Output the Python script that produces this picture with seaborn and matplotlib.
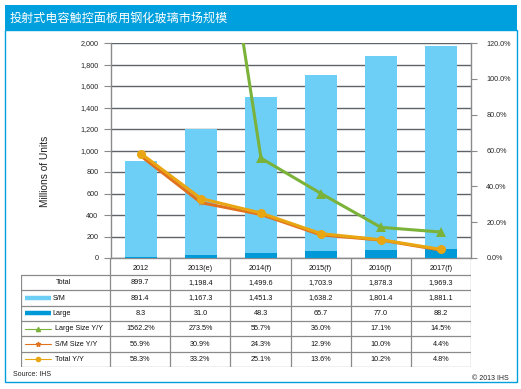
import numpy as np
import matplotlib
matplotlib.use("Agg")
import matplotlib.pyplot as plt
from matplotlib.patches import Rectangle
from matplotlib.lines import Line2D
import seaborn as sns

# data
years = ["2012", "2013(e)", "2014(f)", "2015(f)", "2016(f)", "2017(f)"]
total = [899.7, 1198.4, 1499.6, 1703.9, 1878.3, 1969.3]
sm = [891.4, 1167.3, 1451.3, 1638.2, 1801.4, 1881.1]
large = [8.3, 31.0, 48.3, 65.7, 77.0, 88.2]
large_yy = [1562.2, 273.5, 55.7, 36.0, 17.1, 14.5]
sm_yy = [56.9, 30.9, 24.3, 12.9, 10.0, 4.4]
total_yy = [58.3, 33.2, 25.1, 13.6, 10.2, 4.8]

left_ticks = list(range(0, 2001, 200))
right_ticks = list(range(0, 121, 20))

LIGHT = "#6DCFF6"
DARK = "#0099D8"
GREEN = "#7AB23A"
ORANGE = "#E2711D"
GOLD = "#E9A613"
BAR_BLUE = "#009FDD"
GRID = "#5F6368"
TGRID = "#8A8A8A"

sns.set_theme(style="white")
plt.rcParams["font.family"] = ["Liberation Sans", "DejaVu Sans"]

W, H = 521, 389
fig = plt.figure(figsize=(W / 100, H / 100), dpi=100)


def fbox(x0, y0, x1, y1):
    return [x0 / W, 1 - y1 / H, (x1 - x0) / W, (y1 - y0) / H]


# frame and title bar
fig.patches.append(Rectangle((5 / W, 1 - 382 / H), 512 / W, 352 / H, transform=fig.transFigure,
                             fill=False, edgecolor=BAR_BLUE, lw=1.0))
fig.patches.append(Rectangle((5 / W, 1 - 30 / H), 512 / W, 25 / H, transform=fig.transFigure,
                             facecolor=BAR_BLUE, edgecolor="none"))
fig.text(10 / W, 1 - 18 / H, "投射式电容触控面板用钢化玻璃市场规模", color="white", fontsize=8.7,
         va="center", ha="left", family=["Noto Sans CJK SC", "DejaVu Sans"])

# main chart
ax = fig.add_axes(fbox(111, 43, 471, 258))
sns.barplot(x=years, y=total, color=LIGHT, width=0.52, saturation=1, linewidth=0,
            edgecolor="none", ax=ax, zorder=2)
sns.barplot(x=years, y=large, color=DARK, width=0.52, saturation=1, linewidth=0,
            edgecolor="none", ax=ax, zorder=3)
ax.set_ylim(0, 2000)
ax.set_xlim(-0.5, 5.5)
ax.set_yticks(left_ticks)
ax.set_yticklabels([f"{v:,}" for v in left_ticks], fontsize=5.2)
ax.yaxis.grid(True, color=GRID, lw=1.0, zorder=0)
ax.set_axisbelow(True)
ax.set_xticks([])
ax.set_xlabel("")
ax.set_ylabel("")
ax.tick_params(axis="y", length=5, width=0.8, color=TGRID, direction="out", pad=4, left=True)
for s in ["left", "bottom", "right"]:
    ax.spines[s].set_color(TGRID)
    ax.spines[s].set_linewidth(1.0)
ax.spines["top"].set_visible(False)

ax2 = ax.twinx()
sns.pointplot(x=years, y=large_yy, color=GREEN, marker="^", markersize=7, markeredgewidth=0,
              linewidth=2.2, ax=ax2)
sns.pointplot(x=years, y=sm_yy, color=ORANGE, marker="*", markersize=5.5, markeredgewidth=0,
              linewidth=2.2, ax=ax2)
sns.pointplot(x=years, y=total_yy, color=GOLD, marker="o", markersize=6.5, markeredgewidth=0,
              linewidth=2.2, ax=ax2)
ax2.set_ylim(0, 120)
ax2.set_xlim(-0.5, 5.5)
ax2.set_yticks(right_ticks)
ax2.set_yticklabels([f"{v:.1f}%" for v in right_ticks], fontsize=5.2)
ax2.tick_params(axis="y", length=4, width=0.8, color=TGRID, direction="out", pad=7, right=True)
ax2.set_xticks([])
ax2.set_ylabel("")
ax2.set_xlabel("")
for s in ax2.spines.values():
    s.set_visible(False)

fig.text(45 / W, 1 - 171 / H, "Millions of Units", rotation=90, fontsize=7.3,
         ha="center", va="center", color="#222222")

# data table
n = len(years)
lab_w = 89 / 60  # label column width in category units
hdr = 17 / 15.33
xl = -0.5 - lab_w
tax = fig.add_axes(fbox(21, 258, 471, 367))
tax.set_xlim(xl, n - 0.5)
tax.set_ylim(6, -hdr)
tax.axis("off")

for r in range(7):
    tax.plot([xl, n - 0.5], [r, r], color=TGRID, lw=0.9, solid_capstyle="butt")
tax.plot([xl, xl], [0, 6], color=TGRID, lw=0.9)
for c in range(n + 1):
    tax.plot([c - 0.5, c - 0.5], [-hdr, 6], color=TGRID, lw=0.9)

for i, y in enumerate(years):
    tax.text(i, -hdr / 2 + 0.1, y, ha="center", va="center", fontsize=5.2, color="#111111")

rows = [
    ("Total", [f"{v:,.1f}" for v in total]),
    ("S/M", [f"{v:,.1f}" for v in sm]),
    ("Large", [f"{v:,.1f}" for v in large]),
    ("Large Size Y/Y", [f"{v:.1f}%" for v in large_yy]),
    ("S/M Size Y/Y", [f"{v:.1f}%" for v in sm_yy]),
    ("Total Y/Y", [f"{v:.1f}%" for v in total_yy]),
]
for r, (name, vals) in enumerate(rows):
    yc = r + 0.5
    for i, v in enumerate(vals):
        tax.text(i, yc, v, ha="center", va="center", fontsize=5.2, color="#111111")

u = 1 / 60
sx0, sx1 = xl + 4 * u, xl + 30 * u
tax.text(xl + 42 * u, 0.5, "Total", ha="center", va="center", fontsize=5.2, color="#111111")
for r, col in [(1, LIGHT), (2, DARK)]:
    tax.add_line(Line2D([sx0, sx1], [r + 0.5, r + 0.5], color=col, lw=3.2, solid_capstyle="butt"))
    tax.text(sx1 + 1.5 * u, r + 0.5, rows[r][0], ha="left", va="center", fontsize=5.2, color="#111111")
for r, col, mk, ms in [(3, GREEN, "^", 3), (4, ORANGE, "*", 3.5), (5, GOLD, "o", 3)]:
    tax.add_line(Line2D([sx0, sx1], [r + 0.5, r + 0.5], color=col, lw=0.8))
    tax.plot([(sx0 + sx1) / 2], [r + 0.5], marker=mk, ms=ms, color=col, lw=0)
    tax.text(sx1 + 4 * u, r + 0.5, rows[r][0], ha="left", va="center", fontsize=5.2, color="#111111")

fig.text(13 / W, 1 - 374 / H, "Source: IHS", fontsize=5, ha="left", va="center", color="#222222")
fig.text(509 / W, 1 - 379 / H, "© 2013 IHS", fontsize=5, ha="right", va="center", color="#222222")

fig.savefig("out.png", dpi=100)
